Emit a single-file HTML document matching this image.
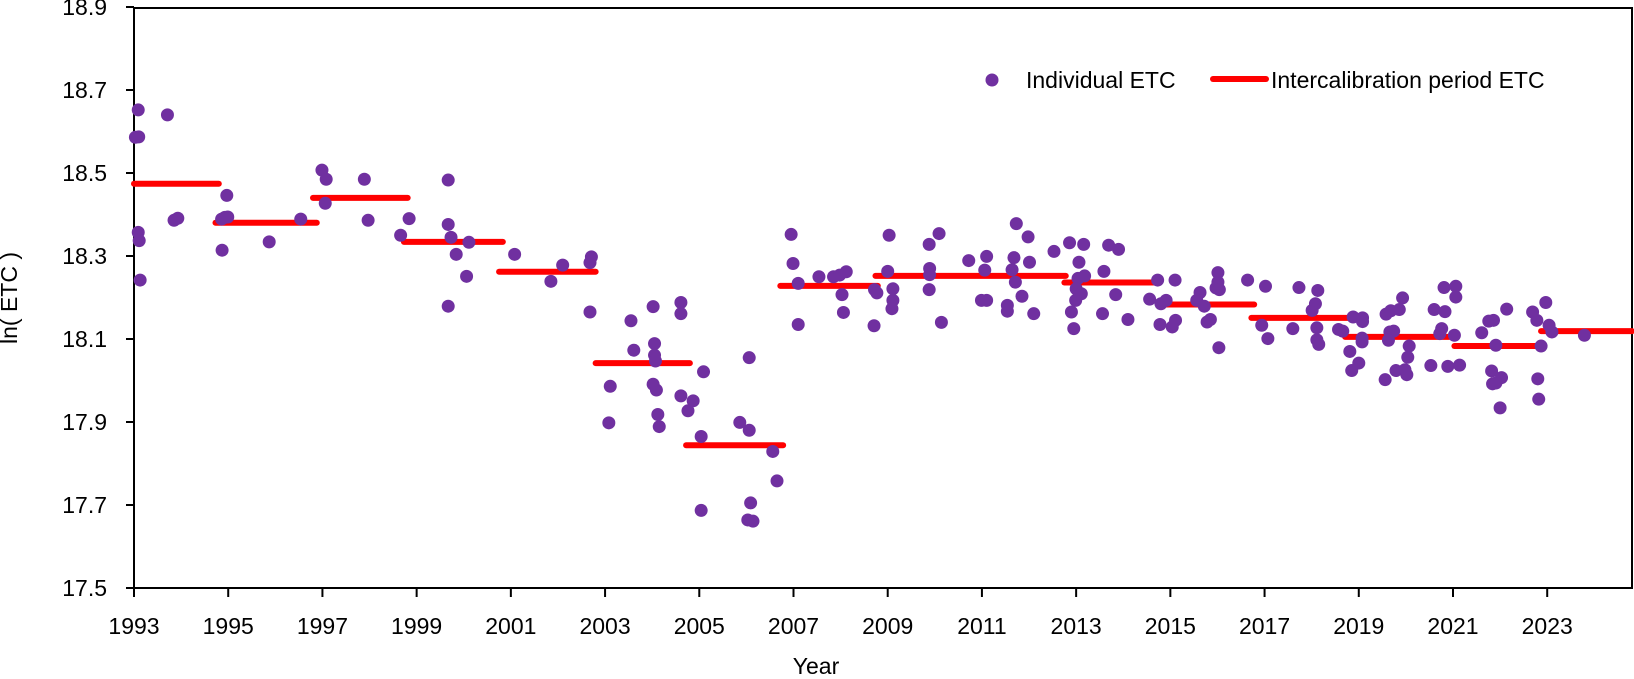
<!DOCTYPE html>
<html><head><meta charset="utf-8"><style>
html,body{margin:0;padding:0;background:#fff;}
svg{display:block;font-family:"Liberation Sans",Arial,sans-serif;}
</style></head><body>
<svg id="chart" width="1634" height="679" viewBox="0 0 1634 679">
<g id="axes"></g>
<g id="periods"></g>
<g id="dots"></g>
<g>
  <circle cx="992" cy="80" r="6.5" fill="#7030a0"/>
  <text x="1026" y="88" font-size="23" fill="#000">Individual ETC</text>
  <line x1="1213" y1="79" x2="1266" y2="79" stroke="#ff0000" stroke-width="6" stroke-linecap="round"/>
  <text x="1271" y="88" font-size="23" fill="#000">Intercalibration period ETC</text>
</g>
<text x="17" y="298" font-size="23" text-anchor="middle" transform="rotate(-90 17 298)">ln( ETC )</text>
<text x="816" y="674" font-size="23" text-anchor="middle">Year</text>
</svg>
<script>
const yearTicks = [1993,1995,1997,1999,2001,2003,2005,2007,2009,2011,2013,2015,2017,2019,2021,2023];
const valueTicks = [17.5,17.7,17.9,18.1,18.3,18.5,18.7,18.9];
const dotYears = [1993.09,1993.03,1993.10,1993.09,1993.11,1993.13,1993.71,1993.85,1993.93,1994.97,1994.86,1994.93,1994.99,1994.87,1995.87,1996.54,1996.99,1997.08,1997.06,1997.89,1997.97,1998.66,1998.84,1999.67,1999.67,1999.73,1999.84,2000.11,2000.06,1999.67,2001.08,2001.85,2002.10,2002.68,2002.71,2002.68,
2003.55,2004.02,2004.61,2004.61,2003.61,2004.05,2004.05,2004.07,2003.11,2003.08,2004.02,2004.09,2004.12,2004.15,2004.61,2004.87,2004.76,2005.09,2005.04,2005.04,2005.86,2006.06,2006.06,2006.09,2006.03,2006.14,2006.56,2006.65,
2006.95,2006.99,2007.10,2007.10,2007.54,2007.85,2007.98,2008.12,2008.03,2008.06,2008.72,2008.77,2008.71,
2009.03,2009.00,2009.11,2009.11,2009.09,2009.88,2010.09,2009.89,2009.89,2009.88,2010.14,2010.72,2011.10,2011.06,2010.99,2011.10,2011.73,2011.98,2011.68,2011.64,2011.71,2012.01,2011.54,2011.54,2011.85,2012.10,2012.53,
2012.86,2013.16,2013.06,2013.18,2013.04,2013.00,2013.11,2012.99,2012.90,2012.95,2013.69,2013.90,2013.59,2013.84,2013.56,2014.10,2014.73,2015.10,2014.56,2014.80,2014.91,2014.78,2015.11,2015.04,
2015.63,2015.56,2015.72,2015.78,2015.85,2016.01,2016.01,2015.97,2016.04,2016.03,2016.64,2017.02,2016.94,2017.07,2017.73,2017.60,2018.13,2018.08,2018.01,2018.11,2018.11,2018.15,2018.57,2018.66,
2018.88,2019.08,2019.08,2019.07,2019.07,2018.81,2019.00,2018.85,2019.58,2019.68,2019.86,2019.93,2019.66,2019.74,2019.63,2020.07,2020.04,2019.79,2019.98,2020.02,2019.56,2020.53,2020.60,2020.83,2020.81,2021.06,2021.06,2020.76,2020.72,2021.03,2020.89,2021.14,
2022.14,2021.76,2021.86,2021.61,2021.91,2021.82,2022.03,2021.84,2021.91,2022.00,2022.69,2022.78,2022.97,2022.87,2022.80,2022.82,2023.04,2023.10,2023.79];
const dotValues = [18.652,18.586,18.587,18.357,18.337,18.242,18.640,18.386,18.391,18.446,18.389,18.393,18.394,18.314,18.334,18.389,18.507,18.485,18.427,18.485,18.386,18.350,18.390,18.483,18.376,18.345,18.304,18.333,18.251,18.179,18.304,18.239,18.278,18.284,18.298,18.165,
18.144,18.178,18.188,18.161,18.073,18.089,18.061,18.047,17.986,17.898,17.991,17.977,17.918,17.889,17.963,17.951,17.927,18.021,17.865,17.687,17.899,17.880,18.055,17.705,17.664,17.661,17.829,17.758,
18.352,18.282,18.234,18.135,18.250,18.250,18.254,18.262,18.207,18.164,18.219,18.211,18.132,
18.350,18.263,18.221,18.193,18.173,18.328,18.354,18.270,18.255,18.219,18.140,18.289,18.299,18.266,18.193,18.193,18.378,18.346,18.296,18.267,18.237,18.285,18.181,18.167,18.203,18.161,18.311,
18.332,18.328,18.285,18.252,18.246,18.221,18.209,18.193,18.165,18.125,18.326,18.316,18.263,18.207,18.161,18.147,18.242,18.242,18.196,18.185,18.193,18.135,18.145,18.129,
18.212,18.193,18.179,18.141,18.147,18.260,18.237,18.223,18.219,18.079,18.242,18.227,18.133,18.101,18.224,18.125,18.217,18.185,18.169,18.127,18.098,18.087,18.123,18.119,
18.153,18.151,18.142,18.102,18.093,18.070,18.042,18.024,18.160,18.168,18.171,18.199,18.117,18.119,18.097,18.083,18.056,18.024,18.026,18.014,18.002,18.036,18.171,18.166,18.224,18.227,18.201,18.125,18.113,18.109,18.034,18.037,
18.172,18.143,18.145,18.115,18.085,18.023,18.007,17.992,17.994,17.934,18.165,18.145,18.188,18.083,18.004,17.955,18.133,18.117,18.109];
const periodStarts = [1993.0,1994.73,1996.80,1998.73,2000.75,2002.80,2004.72,2006.72,2008.74,2012.75,2014.80,2016.72,2018.71,2021.03,2022.87];
const periodEnds   = [1994.80,1996.88,1998.81,2000.83,2002.80,2004.80,2006.78,2008.79,2012.78,2014.70,2016.78,2018.77,2020.92,2022.80,2024.8];
const periodValues = [18.474,18.380,18.440,18.334,18.262,18.042,17.844,18.228,18.252,18.236,18.183,18.151,18.105,18.083,18.119];

const NS='http://www.w3.org/2000/svg';
const X0=134, X1=1632, Y0=588, Y1=7;
const xMin=1993, xMax=2024.8, yMin=17.5, yMax=18.9;
function xs(v){return X0+(v-xMin)/(xMax-xMin)*(X1-X0);}
function ys(v){return Y0-(v-yMin)/(yMax-yMin)*(Y0-Y1);}
function mk(tag,attrs,parent){const e=document.createElementNS(NS,tag);for(const k in attrs)e.setAttribute(k,attrs[k]);parent.appendChild(e);return e;}

const axes=document.getElementById('axes');
let e=mk('rect',{x:X0,y:Y1+1,width:X1-X0,height:Y0-Y1-1,fill:'none',stroke:'#000','stroke-width':2},axes);


valueTicks.forEach(v=>{
  const y=ys(v);
  const t=mk('line',{x1:X0-8,x2:X0,y1:y,y2:y,stroke:'#000','stroke-width':2},axes);
  
  
  const l=mk('text',{x:107,y:y+8,'font-size':23,'text-anchor':'end',fill:'#000'},axes);
  l.textContent=v.toFixed(1);
  
  
});
yearTicks.forEach(v=>{
  const x=xs(v);
  const t=mk('line',{x1:x,x2:x,y1:Y0,y2:Y0+9,stroke:'#000','stroke-width':2},axes);
  
  
  const l=mk('text',{x:x,y:634,'font-size':23,'text-anchor':'middle',fill:'#000'},axes);
  l.textContent=String(v);
  
  
});
const pg=document.getElementById('periods');
periodValues.forEach((v,i)=>{
  const ln=mk('line',{x1:xs(periodStarts[i]),x2:xs(periodEnds[i]),y1:ys(v),y2:ys(v),stroke:'#ff0000','stroke-width':6,'stroke-linecap':'round'},pg);
  
  
});
const dg=document.getElementById('dots');
dotValues.forEach((v,i)=>{
  const c=mk('circle',{cx:xs(dotYears[i]),cy:ys(v),r:6.5,fill:'#7030a0'},dg);
  
  
});
</script>
</body></html>
